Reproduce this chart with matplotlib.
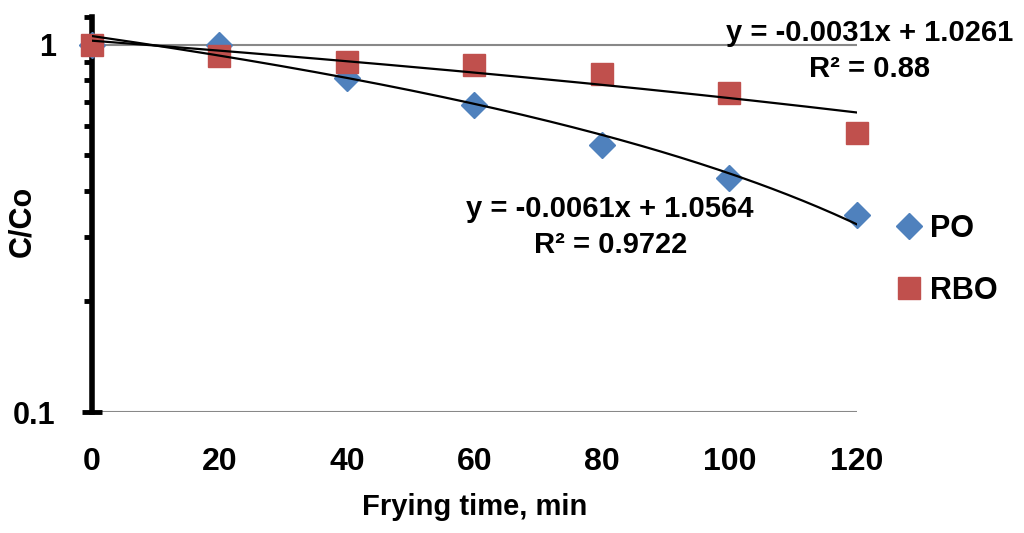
import matplotlib.pyplot as plt
import numpy as np
from matplotlib.ticker import FixedLocator, NullFormatter

plt.rcParams['font.family'] = ['Liberation Sans', 'DejaVu Sans']
plt.rcParams['font.weight'] = 'bold'

# frying time (min) and relative concentration C/Co
time_min = [0, 20, 40, 60, 80, 100, 120]
po_vals = [1.0, 1.0, 0.81, 0.685, 0.535, 0.435, 0.345]
rbo_vals = [1.0, 0.93, 0.90, 0.88, 0.835, 0.74, 0.575]

# linear trendlines as given on the chart
po_fit = (-0.0061, 1.0564, "0.9722")
rbo_fit = (-0.0031, 1.0261, "0.88")

blue = "#4F81BD"
red = "#C0504D"

fig = plt.figure(figsize=(10.24, 5.33), dpi=100)
ax = fig.add_axes([0.0898, 0.227, 0.747, 0.741])

ax.plot(time_min, po_vals, linestyle="none", marker="D", ms=13,
        color=blue, label="PO", clip_on=False, zorder=3)
ax.plot(time_min, rbo_vals, linestyle="none", marker="s", ms=16,
        color=red, label="RBO", clip_on=False, zorder=3)

xx = np.linspace(0, 120, 200)
for m, b, r2 in [po_fit, rbo_fit]:
    ax.plot(xx, m * xx + b, color="black", lw=1.6, zorder=4)

ax.set_yscale("log")
ax.set_xlim(0, 120)
ax.set_ylim(0.1, 1.19)

ax.set_xticks(time_min)
ax.set_xticklabels([str(t) for t in time_min], fontsize=23, fontweight="bold")
ax.tick_params(axis="x", length=0, pad=25)

ax.yaxis.set_major_locator(FixedLocator([0.1, 1]))
ax.set_yticklabels(["0.1", "1"], fontsize=22, fontweight="bold")
ax.yaxis.set_minor_locator(FixedLocator([0.2, 0.3, 0.4, 0.5, 0.6, 0.7, 0.8, 0.9, 1.19]))
ax.yaxis.set_minor_formatter(NullFormatter())
ax.tick_params(axis="y", which="major", direction="inout", length=14, width=3.5, pad=19)
ax.tick_params(axis="y", which="minor", direction="out", length=6, width=3.5)

ax.axhline(1, color="#888888", lw=1.5, zorder=1)
ax.axhline(0.1, color="#888888", lw=1.5, zorder=1)

for s in ["top", "right", "bottom"]:
    ax.spines[s].set_visible(False)
ax.spines["left"].set_linewidth(4)

ax.set_xlabel("Frying time, min", fontsize=21, fontweight="bold", labelpad=12)
ax.set_ylabel("C/Co", fontsize=22, fontweight="bold")
ax.yaxis.set_label_coords(-0.072, 0.483)

ax.text(81.3, 0.319, "y = %.4fx + %.4f\nR² = %s" % po_fit, ha="center", va="center",
        fontsize=21, fontweight="bold", linespacing=1.35)
ax.text(122, 0.963, "y = %.4fx + %.4f\nR² = %s" % rbo_fit, ha="center", va="center",
        fontsize=21, fontweight="bold", linespacing=1.35, clip_on=False)

ax.legend(loc="center left", bbox_to_anchor=(1.008, 0.385), frameon=False,
          fontsize=22, handletextpad=0.1, labelspacing=1.05, handlelength=1.2)

fig.savefig("out.png", dpi=100)
